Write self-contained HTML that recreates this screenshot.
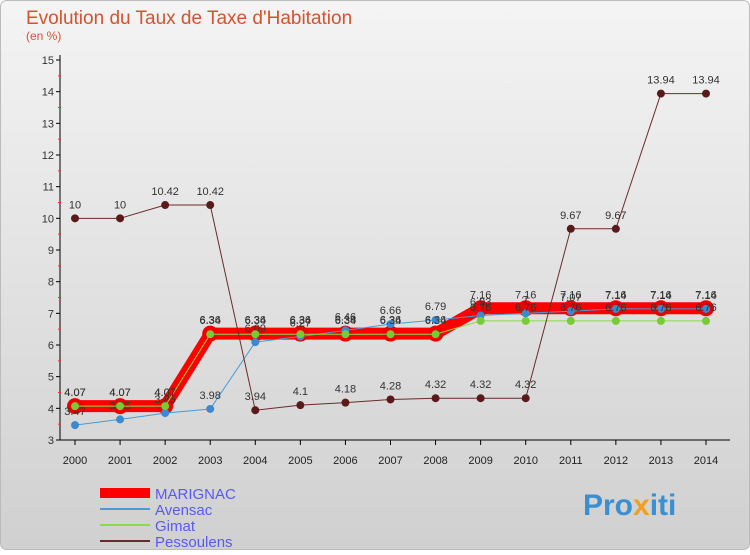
<!DOCTYPE html>
<html><head><meta charset="utf-8"><style>
body{margin:0;width:750px;height:550px;overflow:hidden;font-family:"Liberation Sans",sans-serif}
</style></head><body>
<svg id="c" width="750" height="550" xmlns="http://www.w3.org/2000/svg">
<defs><linearGradient id="bg" x1="0" y1="0" x2="0" y2="1"><stop offset="0" stop-color="#f4f4f4"/><stop offset="1" stop-color="#d0d0d0"/></linearGradient></defs>
<rect x="0.5" y="0.5" width="749" height="549" rx="6" fill="url(#bg)" stroke="#bbb"/>
<text x="26" y="24" font-size="19" fill="#d2542e">Evolution du Taux de Taxe d'Habitation</text>
<text x="26" y="40" font-size="12" fill="#d2542e">(en %)</text>
<g id="axes"></g><g id="series"></g><g id="legend"></g>
<text x="583" y="515" font-size="30" font-weight="bold" fill="#3a8fd0">Pro<tspan fill="#f0a020">x</tspan>iti</text>
</svg>
<script>
const years=[2000,2001,2002,2003,2004,2005,2006,2007,2008,2009,2010,2011,2012,2013,2014];
const yTicks=[3,4,5,6,7,8,9,10,11,12,13,14,15];
const marignac=[4.07,4.07,4.07,6.36,6.36,6.36,6.36,6.36,6.36,7.16,7.16,7.16,7.16,7.16,7.16];
const avensac=[3.47,3.65,3.85,3.98,6.09,6.27,6.46,6.66,6.79,6.93,7.0,7.07,7.14,7.14,7.14];
const gimat=[4.07,4.07,4.07,6.34,6.34,6.34,6.34,6.34,6.34,6.76,6.76,6.76,6.76,6.76,6.76];
const pessoulens=[10,10,10.42,10.42,3.94,4.1,4.18,4.28,4.32,4.32,4.32,9.67,9.67,13.94,13.94];
const NS="http://www.w3.org/2000/svg";
const X=i=>75+i*(706-75)/14;
const Y=v=>440-(v-3)*(380/12);
function mk(t,a,p){const e=document.createElementNS(NS,t);for(const k in a)e.setAttribute(k,a[k]);p.appendChild(e);return e;}
const ax=document.getElementById('axes');
const yl=mk('line',{x1:60,y1:55,x2:60,y2:440,stroke:'#000'},ax);


const xl=mk('line',{x1:60,y1:440,x2:730,y2:440,stroke:'#000'},ax);


yTicks.forEach(v=>{
  mk('line',{x1:56,y1:Y(v),x2:60,y2:Y(v),stroke:'#000'},ax);
  if(v<15)mk('line',{x1:58,y1:Y(v+0.5),x2:61,y2:Y(v+0.5),stroke:'#e33'},ax);
  const t=mk('text',{x:54,y:Y(v)+4,'font-size':11,fill:'#333','text-anchor':'end'},ax);t.textContent=v;
  
  
});
years.forEach((y,i)=>{
  mk('line',{x1:X(i),y1:440,x2:X(i),y2:445,stroke:'#000'},ax);
  const t=mk('text',{x:X(i),y:464,'font-size':11,fill:'#222','text-anchor':'middle'},ax);t.textContent=y;
  
  
});
const sg=document.getElementById('series');
function series(name,data,color,w,r,fill,ring){
  const g=mk('g',{},sg);
  
  
  mk('polyline',{points:data.map((v,i)=>X(i)+','+Y(v)).join(' '),fill:'none',stroke:color,'stroke-width':w},g);
  data.forEach((v,i)=>{
    if(ring)mk('circle',{cx:X(i),cy:Y(v),r:r+4,fill:'#e00'},g);
    const c=mk('circle',{cx:X(i),cy:Y(v),r:r,fill:fill},g);
    
    
    const t=mk('text',{x:X(i),y:Y(v)-10,'font-size':11,fill:'#333','text-anchor':'middle'},g);t.textContent=v;
  });
}
series('marignac',marignac,'#f00',12,4,'#e00',true);
series('avensac',avensac,'#4a9ad8',1,4,'#3a8ad0',false);
series('gimat',gimat,'#8d4',1,4,'#7c3',false);
series('pessoulens',pessoulens,'#6b2a2a',1,4,'#5a1a1a',false);
const lg=document.getElementById('legend');
[['MARIGNAC','#f00',10,marignac],['Avensac','#4a9ad8',2,avensac],['Gimat','#8d4',2,gimat],['Pessoulens','#6b2a2a',2,pessoulens]].forEach((s,i)=>{
  const y=493+i*16;
  const g=mk('g',{},lg);
  
  
  mk('line',{x1:100,y1:y,x2:150,y2:y,stroke:s[1],'stroke-width':s[2]},g);
  const t=mk('text',{x:155,y:y+6,'font-size':15,fill:'#5a5af0'},g);t.textContent=s[0];
});
</script>
</body></html>
